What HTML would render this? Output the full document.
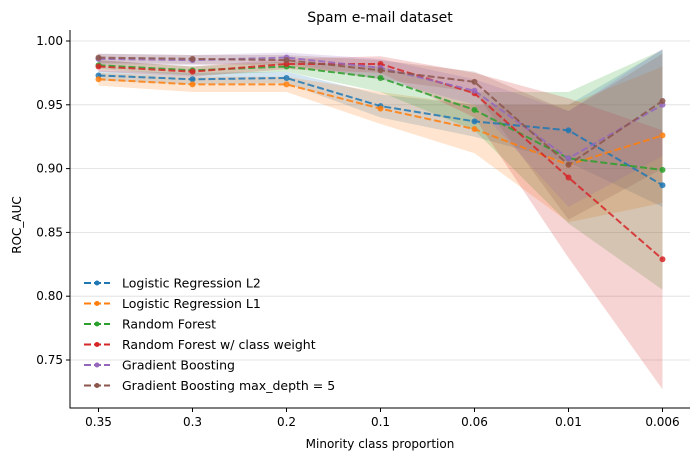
<!DOCTYPE html>
<html><head><meta charset="utf-8"><style>
body{margin:0;background:#fff;font-family:"Liberation Sans","DejaVu Sans",sans-serif}
</style></head><body>
<svg id="c" width="700" height="461" xmlns="http://www.w3.org/2000/svg" font-family="DejaVu Sans, Liberation Sans, sans-serif">
<text x="380" y="22" text-anchor="middle" font-size="14">Spam e-mail dataset</text>
<text x="380" y="448" text-anchor="middle" font-size="12">Minority class proportion</text>
<text transform="translate(21,225) rotate(-90)" text-anchor="middle" font-size="12">ROC_AUC</text>
<g id="grid"></g><g id="bands"></g><g id="lines"></g><g id="axes"></g><g id="legend"></g>
</svg>
<script>
const categories=["0.35","0.3","0.2","0.1","0.06","0.01","0.006"];
const yTicks=[0.75,0.80,0.85,0.90,0.95,1.00];
const names=["Logistic Regression L2","Logistic Regression L1","Random Forest","Random Forest w/ class weight","Gradient Boosting","Gradient Boosting max_depth = 5"];
const colors=["#1f77b4","#ff7f0e","#2ca02c","#d62728","#9467bd","#8c564b"];
const lr2=[0.973,0.970,0.971,0.949,0.937,0.930,0.887];
const lr2Lo=[0.969,0.966,0.967,0.940,0.925,0.905,0.870];
const lr2Hi=[0.977,0.975,0.976,0.958,0.950,0.950,0.993];
const lr1=[0.970,0.966,0.966,0.947,0.931,0.903,0.926];
const lr1Lo=[0.965,0.960,0.960,0.935,0.912,0.858,0.873];
const lr1Hi=[0.975,0.972,0.972,0.960,0.950,0.950,0.980];
const rf=[0.981,0.977,0.980,0.971,0.946,0.908,0.899];
const rfLo=[0.978,0.973,0.976,0.960,0.930,0.857,0.805];
const rfHi=[0.985,0.980,0.984,0.980,0.960,0.960,0.993];
const rfw=[0.980,0.976,0.982,0.982,0.959,0.893,0.829];
const rfwLo=[0.976,0.972,0.978,0.975,0.940,0.830,0.727];
const rfwHi=[0.985,0.980,0.986,0.988,0.975,0.955,0.930];
const gb=[0.986,0.985,0.987,0.979,0.961,0.908,0.950];
const gbLo=[0.982,0.981,0.983,0.970,0.950,0.870,0.910];
const gbHi=[0.990,0.989,0.991,0.986,0.970,0.945,0.994];
const gb5=[0.987,0.986,0.985,0.977,0.968,0.903,0.953];
const gb5Lo=[0.983,0.982,0.981,0.970,0.960,0.860,0.900];
const gb5Hi=[0.990,0.989,0.989,0.985,0.976,0.945,0.990];
const series=[[lr2,lr2Lo,lr2Hi],[lr1,lr1Lo,lr1Hi],[rf,rfLo,rfHi],[rfw,rfwLo,rfwHi],[gb,gbLo,gbHi],[gb5,gb5Lo,gb5Hi]];
const L=70,R=690,T=30,B=408;
const x=i=>98.5+i*(662.5-98.5)/(categories.length-1);
const y=v=>41+(1.0-v)*(360-41)/0.25;
const NS="http://www.w3.org/2000/svg";
function mk(t,a,p){const e=document.createElementNS(NS,t);for(const k in a)e.setAttribute(k,a[k]);document.getElementById(p).appendChild(e);return e;}
yTicks.forEach(v=>{
 const g=mk('line',{x1:L,x2:R,y1:y(v),y2:y(v),stroke:'#dddddd','stroke-width':0.8},'grid');
 
 
 const tk=mk('line',{x1:L-4,x2:L,y1:y(v),y2:y(v),stroke:'#000'},'axes');
 
 
 const t=mk('text',{x:L-7,y:y(v)+4,'text-anchor':'end','font-size':12},'axes');
 t.textContent=v.toFixed(2);
 
 
});
categories.forEach((c,i)=>{
 const tk=mk('line',{x1:x(i),x2:x(i),y1:B,y2:B+4,stroke:'#000'},'axes');
 
 
 const t=mk('text',{x:x(i),y:B+18,'text-anchor':'middle','font-size':12},'axes');
 t.textContent=c;
 
 
});
const ax=mk('path',{d:`M${L},${T}V${B}H${R}`,fill:'none',stroke:'#000','stroke-width':1},'axes');


series.forEach((s,k)=>{
 const [m,lo,hi]=s;
 let d='M'+hi.map((v,i)=>x(i)+','+y(v)).join('L')+'L'+lo.map((v,i)=>x(i)+','+y(v)).reverse().join('L')+'Z';
 const b=mk('path',{d:d,fill:colors[k],'fill-opacity':0.2,stroke:'none'},'bands');
 
 
 const ln=mk('polyline',{points:m.map((v,i)=>x(i)+','+y(v)).join(' '),fill:'none',stroke:colors[k],'stroke-width':2,'stroke-dasharray':'7,3','stroke-opacity':0.85},'lines');
 
 
 m.forEach((v,i)=>{
  const p=mk('circle',{cx:x(i),cy:y(v),r:3,fill:colors[k],'fill-opacity':0.85},'lines');
  
  
 });
 const ly=283+k*20.5;
 const ll=mk('line',{x1:84,x2:110,y1:ly,y2:ly,stroke:colors[k],'stroke-width':2,'stroke-dasharray':'7,3'},'legend');
 
 
 const lc=mk('circle',{cx:97,cy:ly,r:2.5,fill:colors[k]},'legend');
 
 
 const lt=mk('text',{x:122,y:ly+4.5,'font-size':12.5},'legend');
 lt.textContent=names[k];
 
 
});
</script>
</body></html>
